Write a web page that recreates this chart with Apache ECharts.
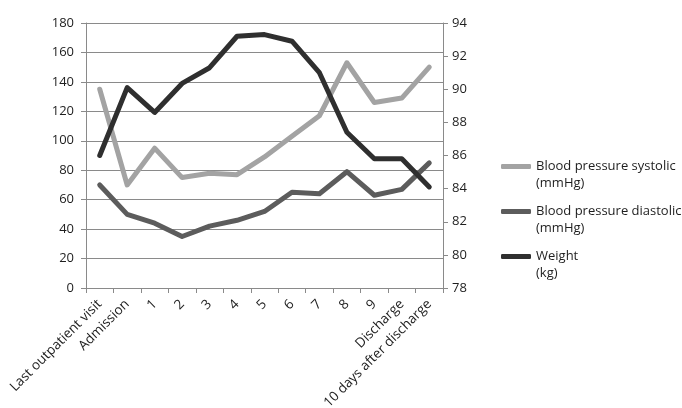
<!DOCTYPE html>
<html>
<head>
<meta charset="utf-8">
<script src="https://cdn.jsdelivr.net/npm/echarts@6/dist/echarts.min.js"></script>
<style>
html, body { margin: 0; padding: 0; background: #fff; }
#lineChart { width: 682px; height: 408px; }
</style>
</head>
<body>
<div id="lineChart"></div>
<script>
var categories = ['Last outpatient visit', 'Admission', '1', '2', '3', '4', '5', '6', '7', '8', '9', 'Discharge', '10 days after discharge'];
var systolic = [135, 70, 95, 75, 78, 77, 89, 103, 117, 153, 126, 129, 150];
var diastolic = [70, 50, 44, 35, 42, 46, 52, 65, 64, 79, 63, 67, 85];
var weight = [86, 90.1, 88.6, 90.35, 91.3, 93.2, 93.3, 92.9, 91, 87.4, 85.8, 85.8, 84.1];
var seriesNames = ['Blood pressure systolic\n(mmHg)', 'Blood pressure diastolic\n(mmHg)', 'Weight\n(kg)'];

var font = 'Open Sans';
var txt = '#1e1e1e';

var getOption = function() {
	var lineSeries = function(name, data, color, axis) {
		return {
			name: name,
			type: 'line',
			yAxisIndex: axis,
			data: data,
			symbol: 'none',
			lineStyle: { width: 5, color: color, cap: 'round', join: 'round' },
			itemStyle: { color: color },
			animation: false
		};
	};
	return {
		animation: false,
		legend: {
			orient: 'vertical',
			left: 496,
			top: 136,
			itemWidth: 30,
			itemHeight: 5,
			itemGap: -6,
			icon: 'roundRect',
			data: seriesNames,
			// empty first line so the icon sits level with the first text line
			formatter: function(name) { return '\n' + name; },
			textStyle: {
				fontFamily: font, fontSize: 13, color: txt, lineHeight: 17
			}
		},
		grid: { left: 86, right: 239, top: 23, bottom: 120, outerBoundsMode: 'none' },
		xAxis: [{
			type: 'category',
			data: categories,
			boundaryGap: true,
			axisLine: { lineStyle: { color: '#8a8a8a' } },
			axisTick: { show: true, length: 5, lineStyle: { color: '#8a8a8a' } },
			axisLabel: {
				interval: 0, rotate: 45, fontFamily: font, fontSize: 13.5, color: txt, margin: 14
			}
		}],
		yAxis: [{
			type: 'value', min: 0, max: 180, interval: 20, position: 'left',
			axisLine: { show: true, lineStyle: { color: '#8a8a8a' } },
			axisTick: { show: true, length: 5, lineStyle: { color: '#8a8a8a' } },
			splitLine: { lineStyle: { color: '#8a8a8a' } },
			axisLabel: { fontFamily: font, fontSize: 13, color: txt, margin: 12 }
		}, {
			type: 'value', min: 78, max: 94, interval: 2, position: 'right',
			axisLine: { show: true, lineStyle: { color: '#8a8a8a' } },
			axisTick: { show: true, length: 5, lineStyle: { color: '#8a8a8a' } },
			splitLine: { show: false },
			axisLabel: { fontFamily: font, fontSize: 13, color: txt, margin: 9 }
		}],
		series: [
			lineSeries(seriesNames[0], systolic, '#a3a3a3', 0),
			lineSeries(seriesNames[1], diastolic, '#5c5c5c', 0),
			lineSeries(seriesNames[2], weight, '#2f2f2f', 1)
		]
	};
};
var byId = function(id) {
	return document.getElementById(id);
};
var lineChart = echarts.init(byId('lineChart'));
lineChart.setOption(getOption());
</script>
</body>
</html>
